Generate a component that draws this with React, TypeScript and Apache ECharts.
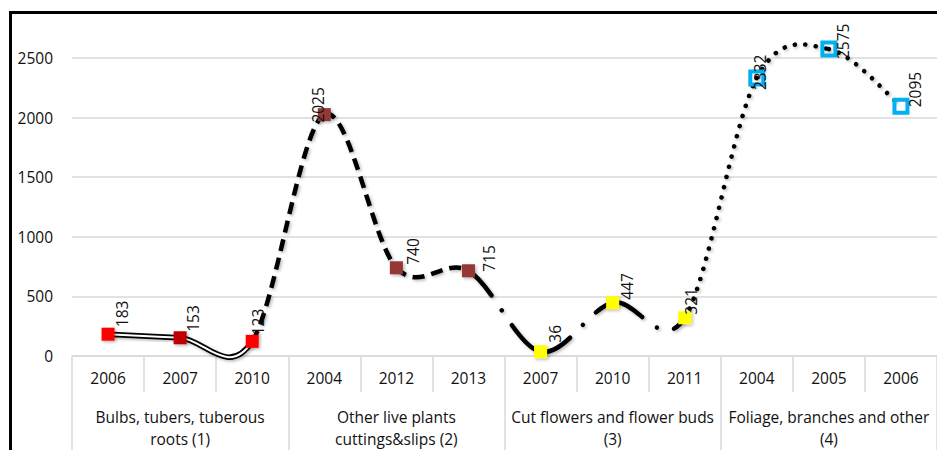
import React, { useEffect, useRef } from "react";
import * as echarts from "echarts";

const years = ["2006", "2007", "2010", "2004", "2012", "2013", "2007", "2010", "2011", "2004", "2005", "2006"];
const groups = [
  "Bulbs, tubers, tuberous\nroots (1)",
  "Other live plants\ncuttings&slips (2)",
  "Cut flowers and flower buds\n(3)",
  "Foliage, branches and other\n(4)",
];
const values = [183, 153, 123, 2025, 740, 715, 36, 447, 321, 2332, 2575, 2095];
const yMin = 0;
const yMax = 2500;
const yStep = 500;

const markerColors = [
  "#ff0000", "#c00000", "#ff0000",
  "#953735", "#953735", "#953735",
  "#ffff00", "#ffff00", "#ffff00",
  "#00b0f0", "#00b0f0", "#00b0f0",
];
const markerHollow = [false, false, false, false, false, false, false, false, false, true, true, true];
// style of the segment from point i to point i+1
const segmentStyles = ["double", "double", "dash", "dash", "dash", "dashdot", "dashdot", "dashdot", "dot", "dot", "dot"];
// label placement relative to marker centre (x of text centre, y of text start)
const labelDx = [14, 13, 6, -6, 17, 21, 14, 14, 6, 3, 14, 14];
const labelDy = [-7, -6, -6, 8, -3, 1, -9, -3, -3, 12, 10, 1];

const FONT = "'Open Sans', Lato, sans-serif";
const FS = 15.5;
const GRID = "#d9d9d9";
const TEXT = "#111";
const SYM = 13;
const HOLLOW_BORDER = 4;
const SHADOW = { shadowColor: "rgba(0,0,0,0.28)", shadowBlur: 3, shadowOffsetX: 1.5, shadowOffsetY: 1.5 };

export default function App() {
  const ref = useRef<HTMLDivElement>(null);

  useEffect(() => {
    if (!ref.current) return;
    const chart = echarts.init(ref.current, null, { renderer: "svg" });

    const lineStyleFor = (kind: string) => {
      if (kind === "dash") return { stroke: "#000", lineWidth: 4.5, lineDash: [12, 7], lineCap: "butt", fill: "none", ...SHADOW };
      if (kind === "dashdot") return { stroke: "#000", lineWidth: 4.5, lineDash: [34, 18, 0.01, 18], lineCap: "round", fill: "none", ...SHADOW };
      return { stroke: "#000", lineWidth: 4.6, lineDash: [0.01, 10.5], lineCap: "round", fill: "none", ...SHADOW };
    };

    const scatterData = values.map((v, i) => {
      const hollow = markerHollow[i];
      const half = hollow ? (SYM + HOLLOW_BORDER) / 2 : SYM / 2;
      return {
        value: [i, v],
        itemStyle: hollow
          ? { color: "rgba(255,255,255,0)", borderColor: markerColors[i], borderWidth: HOLLOW_BORDER, opacity: 1 }
          : { color: markerColors[i], opacity: 1, ...SHADOW },
        label: {
          position: [half + labelDx[i], half + labelDy[i]],
        },
      };
    });

    chart.setOption({
      animation: false,
      grid: { left: 72, right: 0, top: 58, bottom: 94 },
      graphic: [
        {
          type: "rect",
          silent: true,
          z: 100,
          shape: { x: 10.5, y: 12.5, width: 1200, height: 1200 },
          style: { fill: "none", stroke: "#000", lineWidth: 3 },
        },
      ],
      xAxis: [
        {
          type: "category",
          data: years,
          boundaryGap: true,
          axisLine: { show: true, lineStyle: { color: GRID, width: 1.5 } },
          axisTick: { show: true, length: 36, interval: 0, lineStyle: { color: GRID, width: 1.5 } },
          axisLabel: { interval: 0, margin: 14, color: TEXT, fontFamily: FONT, fontSize: FS },
          splitLine: { show: false },
        },
        {
          type: "category",
          data: groups,
          position: "bottom",
          offset: 36,
          boundaryGap: true,
          axisLine: { show: false },
          axisTick: { show: true, length: 60, interval: 0, lineStyle: { color: GRID, width: 1.5 } },
          axisLabel: { interval: 0, margin: 14, lineHeight: 22, color: TEXT, fontFamily: FONT, fontSize: FS },
          splitLine: { show: false },
        },
      ],
      yAxis: {
        type: "value",
        min: yMin,
        max: yMax,
        interval: yStep,
        axisLine: { show: false },
        axisTick: { show: false },
        axisLabel: { margin: 19, color: TEXT, fontFamily: FONT, fontSize: FS, formatter: (v: number) => String(v) },
        splitLine: { lineStyle: { color: GRID, width: 1.5 } },
      },
      series: [
        {
          type: "custom",
          xAxisIndex: 0,
          yAxisIndex: 0,
          clip: false,
          silent: true,
          z: 2,
          data: values.slice(0, -1).map((v, i) => [i, v]),
          renderItem: (params: any, api: any) => {
            const i = params.dataIndex;
            const pt = (k: number) => {
              const kk = Math.max(0, Math.min(values.length - 1, k));
              return api.coord([kk, values[kk]]);
            };
            const p0 = pt(i - 1), p1 = pt(i), p2 = pt(i + 1), p3 = pt(i + 2);
            const t = 1 / 6;
            const shape = {
              x1: p1[0], y1: p1[1],
              cpx1: p1[0] + (p2[0] - p0[0]) * t,
              cpy1: p1[1] + (p2[1] - p0[1]) * t,
              cpx2: p2[0] - (p3[0] - p1[0]) * t,
              cpy2: p2[1] - (p3[1] - p1[1]) * t,
              x2: p2[0], y2: p2[1],
            };
            const kind = segmentStyles[i];
            if (kind === "double") {
              return {
                type: "group",
                children: [
                  { type: "bezierCurve", shape, style: { stroke: "#000", lineWidth: 5.5, fill: "none", lineCap: "butt", ...SHADOW } },
                  { type: "bezierCurve", shape, style: { stroke: "#fff", lineWidth: 2, fill: "none", lineCap: "butt" } },
                ],
              };
            }
            return { type: "bezierCurve", shape, style: lineStyleFor(kind) };
          },
        },
        {
          type: "scatter",
          xAxisIndex: 0,
          yAxisIndex: 0,
          symbol: "rect",
          symbolSize: SYM,
          clip: false,
          z: 3,
          silent: true,
          itemStyle: { opacity: 1 },
          data: scatterData,
          label: {
            show: true,
            rotate: 90,
            align: "left",
            verticalAlign: "middle",
            color: TEXT,
            fontFamily: FONT,
            fontSize: FS,
            formatter: (p: any) => String(p.value[1]),
          },
        },
      ],
    });

    return () => chart.dispose();
  }, []);

  return <div ref={ref} style={{ position: "fixed", left: 0, top: 0, width: 937, height: 450, background: "#fff" }} />;
}
